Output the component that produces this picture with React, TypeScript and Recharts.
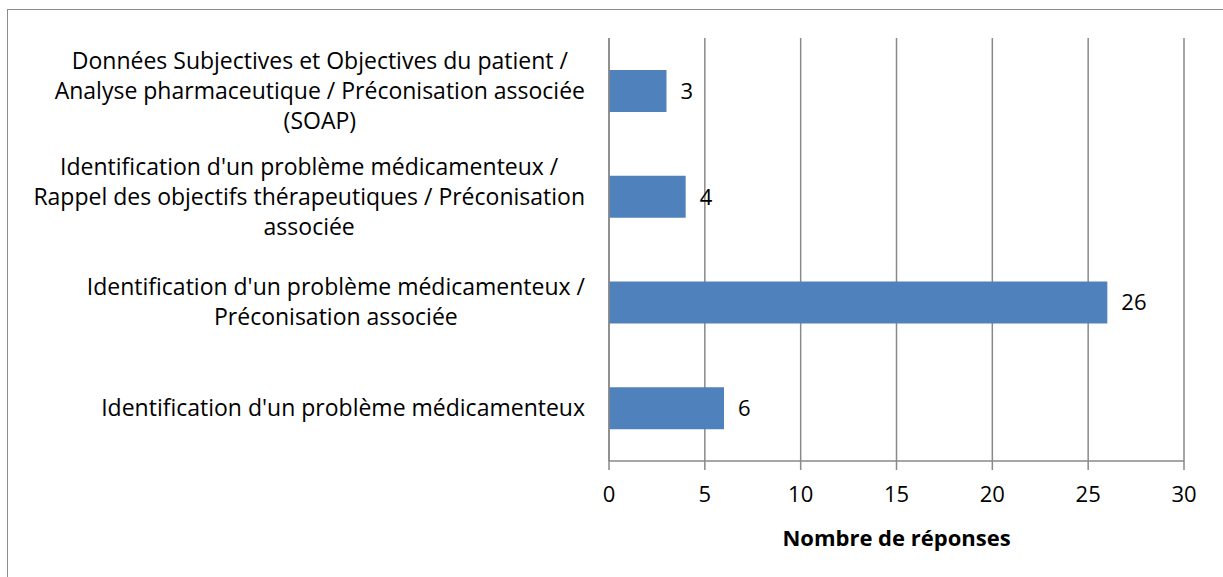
import React from 'react';
import { BarChart, Bar, XAxis, YAxis, CartesianGrid, LabelList, Label } from 'recharts';

// ── 데이터 ─────────────────────────────────────────────
const categories = [
  "Données Subjectives et Objectives du patient /\nAnalyse pharmaceutique / Préconisation associée\n(SOAP)",
  "Identification d'un problème médicamenteux /\nRappel des objectifs thérapeutiques / Préconisation\nassociée",
  "Identification d'un problème médicamenteux /\nPréconisation associée",
  "Identification d'un problème médicamenteux",
];
const responses = [3, 4, 26, 6];
const xTicks = [0, 5, 10, 15, 20, 25, 30];
const xTitle = 'Nombre de réponses';

const FONT = '"Open Sans", sans-serif';
const FS = 23;
const LINE_H = 30;
const GRID = '#898989';

const data = categories.map((name, i) => ({ name, value: responses[i] }));

let ctx: CanvasRenderingContext2D | null = null;
function textWidth(s: string) {
  if (!ctx) ctx = document.createElement('canvas').getContext('2d');
  if (!ctx) return s.length * FS * 0.5;
  ctx.font = `${FS}px ${FONT}`;
  return ctx.measureText(s).width;
}

// ── 카테고리 라벨 (여러 줄, 가운데 정렬, 오른쪽 끝 맞춤) ─────────
function CategoryTick({ x, y, payload }: { x?: number; y?: number; payload?: { value: string } }) {
  const lines = String(payload?.value ?? '').split('\n');
  const maxW = Math.max(...lines.map(textWidth));
  const right = (x ?? 0) - 16;
  const cx = right - maxW / 2;
  const startY = (y ?? 0) - ((lines.length - 1) * LINE_H) / 2;
  return (
    <g>
      {lines.map((l, i) => (
        <text key={i} x={cx} y={startY + i * LINE_H} dy="0.35em" textAnchor="middle"
          fill="#000" style={{ fontFamily: FONT, fontSize: FS }}>{l}</text>
      ))}
    </g>
  );
}

export default function App() {
  return (
    <div style={{ position: 'absolute', left: 0, top: 0, width: 1223, height: 577, background: '#fff', overflow: 'hidden' }}>
      <div style={{ position: 'absolute', left: 7, top: 9, width: 1240, height: 600, border: '1px solid #8c8c8c' }} />
      <div style={{ position: 'absolute', left: 0, top: 0 }}>
        <BarChart width={1223} height={577} data={data} layout="vertical"
          margin={{ top: 38, right: 39, bottom: 40, left: 0 }} barSize={42}>
          <CartesianGrid horizontal={false} stroke={GRID} strokeWidth={1.5} />
          <XAxis type="number" domain={[0, 30]} ticks={xTicks} interval={0}
            axisLine={{ stroke: GRID, strokeWidth: 1.5 }} tickLine={{ stroke: GRID, strokeWidth: 1.5 }}
            tickSize={9} tickMargin={16} height={76}
            tick={{ fill: '#000', fontSize: 22, fontFamily: FONT }}>
            <Label value={xTitle} position="insideBottom" offset={-9}
              style={{ fill: '#000', fontSize: 22, fontWeight: 700, fontFamily: FONT }} />
          </XAxis>
          <YAxis type="category" dataKey="name" width={609} tickLine={false}
            axisLine={{ stroke: GRID, strokeWidth: 1.5 }} tick={<CategoryTick />} />
          <Bar dataKey="value" fill="#4F81BD" isAnimationActive={false}>
            <LabelList dataKey="value" position="right" offset={14}
              style={{ fill: '#000', fontSize: 22, fontFamily: FONT }} />
          </Bar>
        </BarChart>
      </div>
    </div>
  );
}
